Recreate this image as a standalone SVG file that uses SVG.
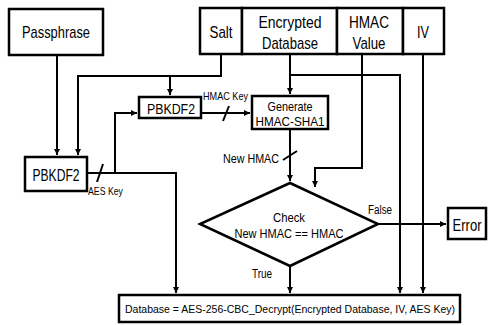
<svg xmlns="http://www.w3.org/2000/svg" width="491" height="325" viewBox="0 0 491 325">
<style>
.box{fill:#fff;stroke:#000;stroke-width:2.5}
.ln{fill:none;stroke:#000;stroke-width:2}
.t{font-family:"Liberation Sans",Arial,sans-serif;fill:#000;text-anchor:middle}
.s{font-family:"Liberation Sans",Arial,sans-serif;fill:#000}
</style>
<defs>
<marker id="ar" markerWidth="8" markerHeight="8" refX="6" refY="4" orient="auto" markerUnits="userSpaceOnUse">
<path d="M0,1 L6,4 L0,7 Z" fill="#000"/>
</marker>
</defs>
<g id="connectors">
<path class="ln" d="M57,55 V155" marker-end="url(#ar)"/>
<path class="ln" d="M221,54 V76 H78 V155" marker-end="url(#ar)"/>
<path class="ln" d="M170,76 V95" marker-end="url(#ar)"/>
<path class="ln" d="M87,173 H176 V293" marker-end="url(#ar)"/>
<path class="ln" d="M115,173 V113 H137" marker-end="url(#ar)"/>
<path class="ln" d="M201,113 H250" marker-end="url(#ar)"/>
<path class="ln" d="M290,54 V94" marker-end="url(#ar)"/>
<path class="ln" d="M290,75 H400 V293" marker-end="url(#ar)"/>
<path class="ln" d="M362,54 V168 H315 V187" marker-end="url(#ar)"/>
<path class="ln" d="M423,54 V293" marker-end="url(#ar)"/>
<path class="ln" d="M290,129 V181" marker-end="url(#ar)"/>
<path class="ln" d="M378,224 H446" marker-end="url(#ar)"/>
<path class="ln" d="M290,266 V293" marker-end="url(#ar)"/>
<path class="ln" d="M97,182 L103,164"/>
<path class="ln" d="M223,121 L229,106"/>
<path class="ln" d="M283,160 L297,151"/>
<text class="s" x="203" y="100" font-size="11" textLength="45" lengthAdjust="spacingAndGlyphs">HMAC Key</text>
<text class="s" x="223" y="163" font-size="12" textLength="56" lengthAdjust="spacingAndGlyphs">New HMAC</text>
<text class="s" x="88" y="195" font-size="11" textLength="35" lengthAdjust="spacingAndGlyphs">AES Key</text>
<text class="s" x="368" y="214" font-size="12" textLength="24" lengthAdjust="spacingAndGlyphs">False</text>
<text class="s" x="252" y="278" font-size="12" textLength="20" lengthAdjust="spacingAndGlyphs">True</text>
</g>
<g id="passphrase">
<rect class="box" x="9" y="9" width="94" height="46"/>
<text class="t" x="56" y="38" font-size="17" textLength="68" lengthAdjust="spacingAndGlyphs">Passphrase</text>
</g>
<g id="salt">
<rect class="box" x="200" y="8" width="42" height="46"/>
<text class="t" x="221" y="38" font-size="17" textLength="23" lengthAdjust="spacingAndGlyphs">Salt</text>
</g>
<g id="encrypted-database">
<rect class="box" x="242" y="8" width="95" height="46"/>
<text class="t" x="290" y="28" font-size="17" textLength="63" lengthAdjust="spacingAndGlyphs">Encrypted</text>
<text class="t" x="290" y="49" font-size="17" textLength="56" lengthAdjust="spacingAndGlyphs">Database</text>
</g>
<g id="hmac-value">
<rect class="box" x="337" y="8" width="66" height="46"/>
<text class="t" x="369" y="28" font-size="17" textLength="40" lengthAdjust="spacingAndGlyphs">HMAC</text>
<text class="t" x="369" y="49" font-size="17" textLength="33" lengthAdjust="spacingAndGlyphs">Value</text>
</g>
<g id="iv">
<rect class="box" x="403" y="8" width="41" height="46"/>
<text class="t" x="423" y="38" font-size="17" textLength="12" lengthAdjust="spacingAndGlyphs">IV</text>
</g>
<g id="pbkdf2-hmac">
<rect class="box" x="139" y="97" width="62" height="21"/>
<text class="t" x="171" y="114" font-size="15" textLength="48" lengthAdjust="spacingAndGlyphs">PBKDF2</text>
</g>
<g id="pbkdf2-aes">
<rect class="box" x="25" y="157" width="62" height="34"/>
<text class="t" x="56" y="181" font-size="16" textLength="47" lengthAdjust="spacingAndGlyphs">PBKDF2</text>
</g>
<g id="generate-hmac">
<rect class="box" x="252" y="96" width="76" height="33"/>
<text class="t" x="290" y="111" font-size="13" textLength="45" lengthAdjust="spacingAndGlyphs">Generate</text>
<text class="t" x="290" y="126" font-size="13" textLength="69" lengthAdjust="spacingAndGlyphs">HMAC-SHA1</text>
</g>
<g id="check">
<path class="box" d="M290,183 L378,224 L290,266 L200,224 Z"/>
<text class="t" x="289" y="222" font-size="12" textLength="32" lengthAdjust="spacingAndGlyphs">Check</text>
<text class="t" x="289" y="238" font-size="12" textLength="109" lengthAdjust="spacingAndGlyphs">New HMAC == HMAC</text>
</g>
<g id="error">
<rect class="box" x="448" y="208" width="38" height="31"/>
<text class="t" x="467" y="231" font-size="16" textLength="29" lengthAdjust="spacingAndGlyphs">Error</text>
</g>
<g id="decrypt">
<rect class="box" x="119" y="295" width="341" height="27"/>
<text class="t" x="290" y="312.5" font-size="10.5" textLength="330" lengthAdjust="spacingAndGlyphs">Database = AES-256-CBC_Decrypt(Encrypted Database, IV, AES Key)</text>
</g>
</svg>
